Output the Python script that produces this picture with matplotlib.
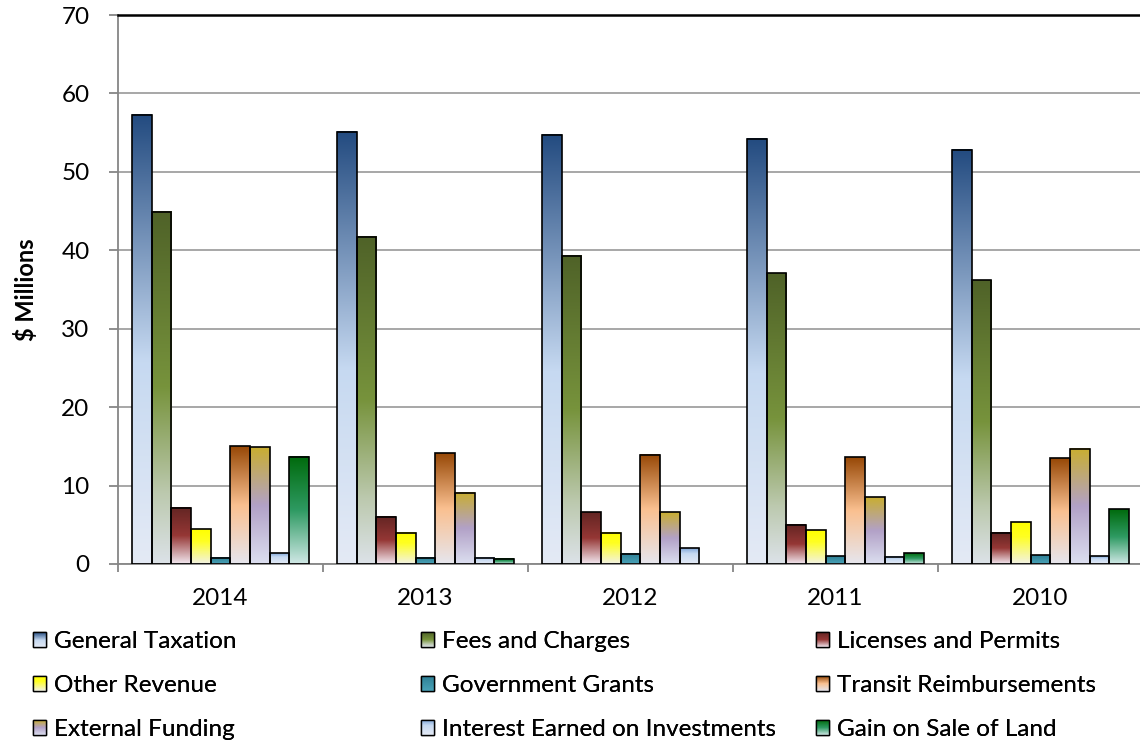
import numpy as np
import matplotlib
matplotlib.use('Agg')
import matplotlib.pyplot as plt
from matplotlib.colors import LinearSegmentedColormap
from matplotlib.legend_handler import HandlerBase
from matplotlib.image import BboxImage
from matplotlib.transforms import Bbox, TransformedBbox
from matplotlib.patches import Rectangle

plt.rcParams['font.family'] = ['Lato', 'DejaVu Sans']

years = ['2014', '2013', '2012', '2011', '2010']
sources = ['General Taxation', 'Fees and Charges', 'Licenses and Permits',
           'Other Revenue', 'Government Grants', 'Transit Reimbursements',
           'External Funding', 'Interest Earned on Investments', 'Gain on Sale of Land']

general_taxation = [57.3, 55.1, 54.7, 54.2, 52.8]
fees_charges = [44.9, 41.7, 39.3, 37.1, 36.2]
licenses_permits = [7.2, 6.0, 6.6, 5.0, 4.0]
other_revenue = [4.4, 4.0, 4.0, 4.3, 5.3]
government_grants = [0.8, 0.8, 1.3, 1.0, 1.1]
transit_reimb = [15.0, 14.1, 13.9, 13.6, 13.5]
external_funding = [14.9, 9.1, 6.6, 8.5, 14.7]
interest_earned = [1.4, 0.8, 2.0, 0.9, 1.0]
gain_land = [13.7, 0.7, 0.0, 1.4, 7.0]

series = [general_taxation, fees_charges, licenses_permits, other_revenue,
          government_grants, transit_reimb, external_funding, interest_earned, gain_land]

# top -> bottom gradient stops for every series
stops = [
    [(0, '#234B80'), (0.55, '#C6D9F1'), (1, '#E4EAF5')],
    [(0, '#4F6228'), (0.5, '#77933C'), (0.8, '#BCC9AE'), (1, '#DCE2E8')],
    [(0, '#632523'), (0.5, '#953735'), (1, '#F2E8F0')],
    [(0, '#FFFF00'), (0.35, '#FFFF22'), (1, '#F2F2E6')],
    [(0, '#2E7F94'), (1, '#4AA3B9')],
    [(0, '#974806'), (0.5, '#FAC090'), (1, '#E6E6EE')],
    [(0, '#C9AE30'), (0.5, '#B2A1C7'), (1, '#DCDFF0')],
    [(0, '#7FA6D8'), (0.35, '#C6D9F1'), (1, '#E4EAF5')],
    [(0, '#006A0C'), (0.5, '#2E9A62'), (1, '#D0E8E6')],
]
cmaps = [LinearSegmentedColormap.from_list('g%d' % i, s) for i, s in enumerate(stops)]
grad = np.linspace(0, 1, 256).reshape(-1, 1)


class GradientHandler(HandlerBase):
    def __init__(self, cmap):
        super().__init__()
        self.cmap = cmap

    def create_artists(self, legend, orig_handle, xdescent, ydescent,
                       width, height, fontsize, trans):
        bb = TransformedBbox(Bbox.from_bounds(-xdescent, -ydescent, width, height), trans)
        img = BboxImage(bb, cmap=self.cmap, interpolation='bilinear')
        img.set_data(grad)
        box = Rectangle((-xdescent, -ydescent), width, height, fill=False,
                        edgecolor='black', lw=1.0, transform=trans)
        return [img, box]


W, H = 1140, 744
fig = plt.figure(figsize=(W / 100, H / 100), dpi=100)
ax = fig.add_axes([118 / W, 180 / H, 1025 / W, 549 / H])

x = np.arange(len(years))
n = len(series)
bw = 0.096
start = -0.5 + (1 - n * bw) / 2

for i, vals in enumerate(series):
    bars = ax.bar(x + start + (i + 0.5) * bw, vals, width=bw, fill=False,
                  edgecolor='black', linewidth=1.2, zorder=3)
    for p in bars.patches:
        if p.get_height() <= 0:
            p.set_linewidth(0)
            continue
        x0, y0 = p.get_x(), p.get_y()
        ax.imshow(grad, cmap=cmaps[i], aspect='auto', interpolation='bilinear',
                  extent=[x0, x0 + p.get_width(), y0, y0 + p.get_height()],
                  origin='upper', zorder=2)

ax.set_xlim(-0.5, len(years) - 0.5)
ax.set_ylim(0, 70)
ax.set_yticks(range(0, 71, 10))
ax.yaxis.grid(True, color='#A0A0A0', linewidth=1.3)
ax.set_axisbelow(True)

ax.set_xticks(np.arange(-0.5, len(years)))
ax.set_xticklabels([])
ax.set_xticks(x, minor=True)
ax.set_xticklabels(years, minor=True, fontsize=17.5)
ax.tick_params(axis='x', which='major', length=6, width=1.3, color='#868686')
ax.tick_params(axis='x', which='minor', length=0, pad=17)
ax.tick_params(axis='y', length=6.5, width=1.3, color='#868686', labelsize=17.5, pad=14)

for s in ['left', 'bottom']:
    ax.spines[s].set_color('#868686')
    ax.spines[s].set_linewidth(1.3)
ax.spines['right'].set_visible(False)
ax.spines['top'].set_color('black')
ax.spines['top'].set_linewidth(1.8)

fig.text(26 / W, 1 - 290 / H, '$ Millions', rotation=90, ha='center', va='center',
         fontsize=17, fontweight='bold')

# legend laid out as three columns, row-major order
col_x = [33, 421, 816]
for c in range(3):
    idx = [c, c + 3, c + 6]
    proxies = [Rectangle((0, 0), 1, 1) for _ in idx]
    leg = fig.legend(proxies, [sources[k] for k in idx],
                     handler_map={p: GradientHandler(cmaps[k]) for p, k in zip(proxies, idx)},
                     loc='upper left', bbox_to_anchor=(col_x[c] / W, 1 - 631 / H),
                     frameon=False, fontsize=17.5, borderpad=0, borderaxespad=0,
                     handlelength=0.55, handleheight=0.55, handletextpad=0.3,
                     labelspacing=0.95)
    fig.add_artist(leg)

fig.savefig('out.png', dpi=100)
